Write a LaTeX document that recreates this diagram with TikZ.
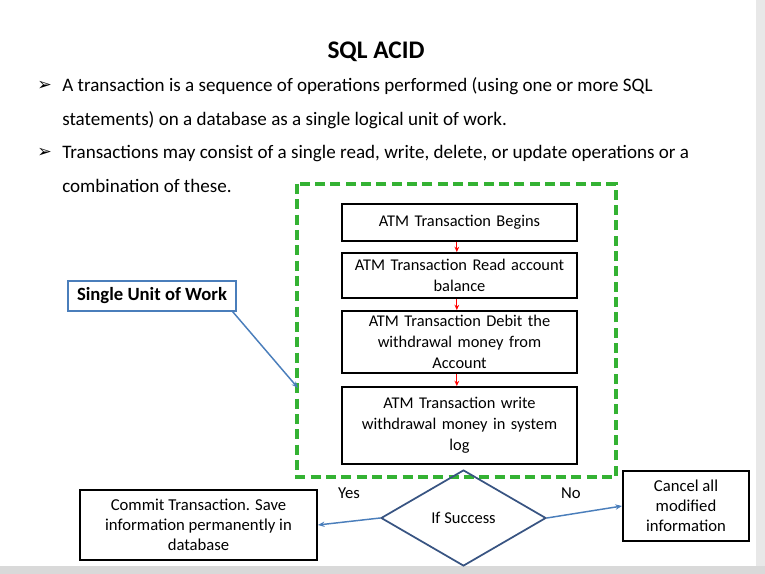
\documentclass[tikz,border=0pt]{standalone}
\usepackage{fontspec}
\setmainfont{Carlito}
\newfontfamily\symfont{DejaVu Sans}
\usetikzlibrary{shapes.geometric,arrows.meta}
\definecolor{dgreen}{RGB}{52,178,51}
\definecolor{lblue}{RGB}{74,126,187}
\definecolor{dblue}{RGB}{56,84,130}
\begin{document}
\begin{tikzpicture}[x=0.75pt,y=-0.75pt,
  stepbox/.style={draw=black,line width=1.4pt,align=center,inner sep=1pt,
    minimum width=176.25pt,text width=174pt,font=\fontsize{12.3}{15.6}\selectfont},
  plainbox/.style={draw=black,line width=1.4pt,align=center,inner sep=1pt,
    font=\fontsize{12.5}{15}\selectfont},
  redarrow/.style={red,line width=0.8pt,-{Stealth[length=4pt,width=3.5pt]}},
  bluearrow/.style={lblue,line width=1.1pt,-{Stealth[length=5pt,width=4pt]}},
  bodytext/.style={anchor=base west,inner sep=0pt,font=\fontsize{14.3}{17}\selectfont},
  bullet/.style={anchor=base west,inner sep=0pt,font=\symfont\bfseries\fontsize{13}{15}\selectfont}
]
\useasboundingbox (0,0) rectangle (765,574);
\fill[white] (0,0) rectangle (765,574);
\fill[black!9] (756,0) rectangle (765,574);
\fill[black!15] (0,566) rectangle (765,574);

% title and text
\node[anchor=base,inner sep=0pt,font=\bfseries\fontsize{19}{22}\selectfont] (title) at (376,59) {SQL ACID};
\node[bullet] (b1) at (37,91) {➢};
\node[bodytext] (t1) at (62,92) {A transaction is a sequence of operations performed (using one or more SQL};
\node[bodytext] (t2) at (62,125.5) {statements) on a database as a single logical unit of work.};
\node[bullet] (b2) at (37,158) {➢};
\node[bodytext] (t3) at (62,159) {Transactions may consist of a single read, write, delete, or update operations or a};
\node[bodytext] (t4) at (62,193) {combination of these.};

% green dashed frame
\draw[dgreen,line width=3pt,dash pattern=on 7.5pt off 4pt] (297,184) rectangle (616,477);
\coordinate (frameleft) at (298,388);

% steps
\node[stepbox,minimum height=27.75pt] (s1) at (459.5,222.5) {ATM Transaction Begins};
\node[stepbox,minimum height=33.75pt] (s2) at (459.5,275.5) {ATM Transaction Read account\\balance};
\node[stepbox,minimum height=46.5pt] (s3) at (459.5,342) {ATM Transaction Debit the\\withdrawal money from\\Account};
\node[stepbox,minimum height=57.75pt] (s4) at (459.5,425.5) {ATM Transaction write\\withdrawal money in system\\log};
\draw[redarrow] ([xshift=-2pt]s1.south) -- ([xshift=-2pt]s2.north);
\draw[redarrow] ([xshift=-2pt]s2.south) -- ([xshift=-2pt]s3.north);
\draw[redarrow] ([xshift=-2pt]s3.south) -- ([xshift=-2pt]s4.north);

% single unit of work
\node[draw=lblue,line width=1.1pt,minimum width=126pt,minimum height=22.5pt,inner sep=1pt,
  font=\bfseries\fontsize{14}{16}\selectfont] (unit) at (152,296) {Single Unit of Work};
\draw[bluearrow] ([xshift=-3pt]unit.south east) -- (frameleft);

% decision
\node[diamond,draw=dblue,line width=1.3pt,minimum width=123.75pt,minimum height=72pt,
  inner sep=0pt,font=\fontsize{12.4}{14}\selectfont] (dec) at (463.5,518) {If Success};
\node[plainbox,minimum width=177.75pt,minimum height=52.5pt] (commit) at (198.5,525)
  {Commit Transaction. Save\\information permanently in\\database};
\node[plainbox,minimum width=94.5pt,minimum height=52.5pt] (cancel) at (686,506)
  {Cancel all\\modified\\information};
\draw[bluearrow] (dec.west) -- (commit.east);
\draw[bluearrow] (dec.east) -- (cancel.west);
\node[anchor=center,inner sep=0pt,font=\fontsize{12.5}{14}\selectfont] (yes) at (349,493) {Yes};
\node[anchor=center,inner sep=0pt,font=\fontsize{12.5}{14}\selectfont] (no) at (571,493) {No};
\end{tikzpicture}
\end{document}
